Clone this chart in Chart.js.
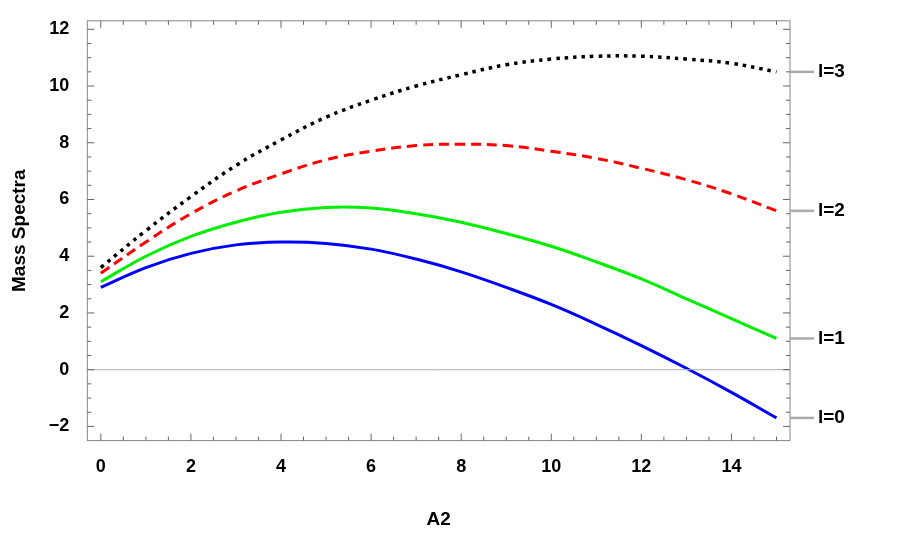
<!DOCTYPE html><html><head><script src="https://cdn.jsdelivr.net/npm/chart.js"></script>
<style>body{margin:0;background:#fff}#w{width:913px;height:533px}</style></head><body><div id="w"><canvas id="c"></canvas></div>
<script>
const xs=[0,1,2,3,4,5,6,7,8,9,10,11,12,13,14,15];
const l0=[2.9,3.6,4.1,4.4,4.5,4.45,4.25,3.9,3.45,2.9,2.3,1.6,0.85,0.05,-0.8,-1.7];
const l1=[3.1,4.0,4.7,5.2,5.55,5.72,5.7,5.5,5.2,4.8,4.35,3.8,3.2,2.5,1.8,1.1];
const l2=[3.4,4.5,5.5,6.3,6.9,7.4,7.7,7.9,7.95,7.9,7.7,7.45,7.1,6.7,6.2,5.6];
const l3=[3.6,4.9,6.1,7.2,8.1,8.9,9.5,10.0,10.4,10.75,10.95,11.05,11.05,10.95,10.8,10.5];
const labels=['l=0','l=1','l=2','l=3'];
const yTicks=[-2,0,2,4,6,8,10,12];
const xTicks=[0,2,4,6,8,10,12,14];
const mk=(d)=>xs.map((x,i)=>({x,y:d[i]}));
const ds=[
 {data:mk(l0),borderColor:'#0000ff',borderWidth:3},
 {data:mk(l1),borderColor:'#00ee00',borderWidth:3},
 {data:mk(l2),borderColor:'#ff0000',borderWidth:3,borderDash:[10,6]},
 {data:mk(l3),borderColor:'#000000',borderWidth:3.5,borderDash:[3.5,5]}
].map(d=>Object.assign(d,{pointRadius:0,tension:0.4}));
const frame={id:'frame',afterDraw(c){const {ctx,chartArea:a,scales:{x,y}}=c;ctx.save();
 ctx.strokeStyle='#aaa';ctx.lineWidth=1;ctx.beginPath();ctx.moveTo(a.left,y.getPixelForValue(0));ctx.lineTo(a.right,y.getPixelForValue(0));ctx.stroke();
 ctx.strokeStyle='#888';ctx.strokeRect(a.left,a.top,a.right-a.left,a.bottom-a.top);
 ctx.lineWidth=1;ctx.strokeStyle='#666';
 for(let v=-2;v<=12;v+=0.5){const p=y.getPixelForValue(v);const L=(v%2===0)?7:4;ctx.beginPath();ctx.moveTo(a.left,p);ctx.lineTo(a.left+L,p);ctx.moveTo(a.right,p);ctx.lineTo(a.right-L,p);ctx.stroke();}
 for(let v=0;v<=15;v+=0.5){const p=x.getPixelForValue(v);const L=(v%2===0)?7:4;ctx.beginPath();ctx.moveTo(p,a.bottom);ctx.lineTo(p,a.bottom-L);ctx.moveTo(p,a.top);ctx.lineTo(p,a.top+L);ctx.stroke();}
 ctx.font='bold 19px Liberation Sans, Arial';ctx.fillStyle='#000';ctx.textBaseline='middle';
 [l0,l1,l2,l3].forEach((d,i)=>{const p=y.getPixelForValue(d[d.length-1]);ctx.strokeStyle='#aaa';ctx.lineWidth=2.5;ctx.beginPath();ctx.moveTo(a.right,p);ctx.lineTo(a.right+24,p);ctx.stroke();ctx.fillText(labels[i],a.right+28,p);});
 ctx.restore();}};
new Chart(document.getElementById('c'),{type:'line',data:{datasets:ds},plugins:[frame],
options:{responsive:true,maintainAspectRatio:false,animation:false,layout:{padding:{top:8,right:123,left:4,bottom:2}},
plugins:{legend:{display:false},tooltip:{enabled:false}},
scales:{x:{type:'linear',min:-0.3,max:15.3,afterBuildTicks:s=>{s.ticks=xTicks.map(v=>({value:v}))},grid:{display:false},border:{display:false},
 ticks:{color:'#000',padding:8,font:{size:18,weight:'bold',family:'Liberation Sans'},maxRotation:0},title:{display:true,text:'A2',color:'#000',padding:{top:22,bottom:0},font:{size:19,weight:'bold',family:'Liberation Sans'}}},
 y:{min:-2.5,max:12.3,afterBuildTicks:s=>{s.ticks=yTicks.map(v=>({value:v}))},grid:{display:false},border:{display:false},
 ticks:{color:'#000',padding:10,font:{size:18,weight:'bold',family:'Liberation Sans'},callback:v=>v<0?'\u2212'+(-v):v},title:{display:true,text:'Mass Spectra',color:'#000',padding:{bottom:8},font:{size:19,weight:'bold',family:'Liberation Sans'}}}}}});
</script></body></html>
